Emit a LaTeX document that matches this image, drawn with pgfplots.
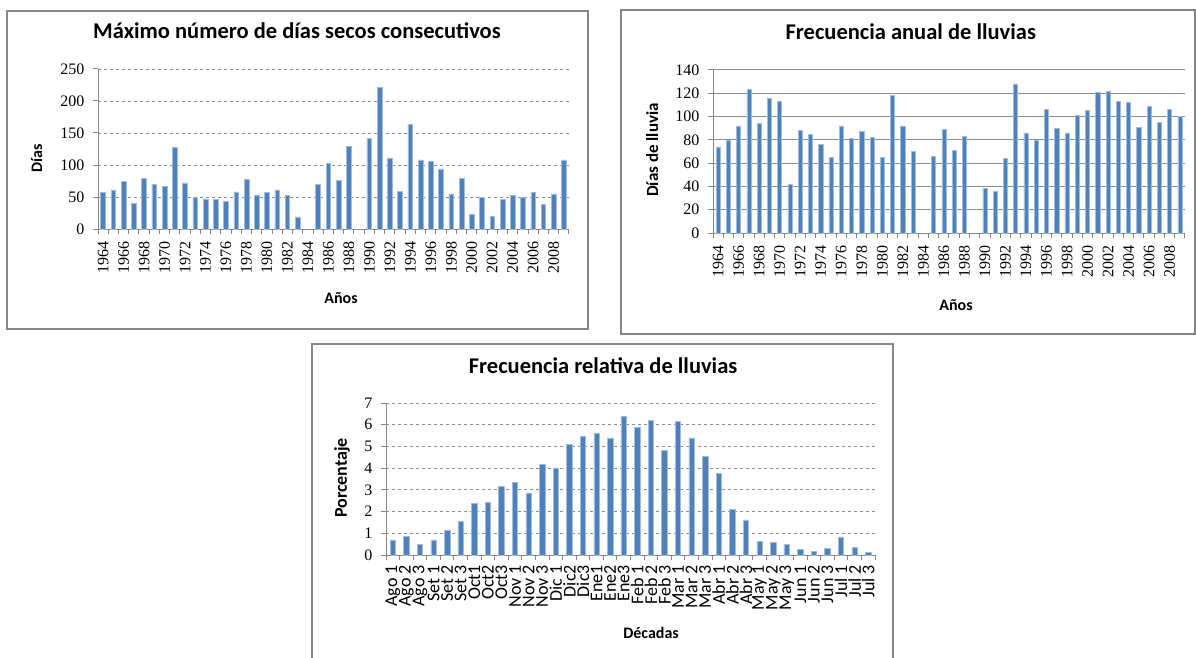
\documentclass[border=0pt]{standalone}
\usepackage{pgfplots}
\pgfplotsset{compat=1.18}
\usepackage{fontspec}
\setmainfont{Carlito}
\newfontfamily\numfont{Liberation Serif}

\definecolor{barblue}{HTML}{4F81BD}
\definecolor{baredge}{HTML}{A3BCDC}
\definecolor{axisgray}{HTML}{868686}
\definecolor{gridgray}{HTML}{8C8C8C}

\pgfplotsset{
  excel/.style={
    scale only axis,
    ybar,
    axis x line*=bottom, axis y line*=left,
    axis line style={axisgray, line width=1pt},
    tick align=outside,
    major tick length=5pt, minor tick length=5pt,
    tick style={axisgray, line width=1pt},
    every major x tick/.append style={draw=none},
    ymin=0,
    ymajorgrids,
    /pgf/number format/assume math mode=true,
    /pgf/number format/1000 sep={},
    yticklabel style={font=\numfont\fontsize{16}{16}\selectfont, xshift=-5pt},
    xticklabel style={font=\numfont\fontsize{16}{16}\selectfont, yshift=-4pt, rotate=90, anchor=east},
    title style={font=\bfseries\fontsize{22.5}{22.5}\selectfont, anchor=center},
    label style={font=\bfseries\fontsize{16}{16}\selectfont, anchor=center},
  },
  bars/.style={fill=barblue, draw=baredge, line width=0.6pt},
}

\begin{document}
\begin{tikzpicture}
\useasboundingbox (0pt,0pt) rectangle (1196pt,657pt);

% frames
\draw[axisgray, line width=1.2pt] (7pt,328pt) rectangle (588pt,646pt);
\draw[axisgray, line width=1.2pt] (621pt,323pt) rectangle (1195pt,647pt);
\draw[axisgray, line width=1.2pt] (312pt,-5pt) rectangle (893pt,313pt);

% Chart 1
\begin{axis}[excel,
    at={(98pt,428pt)}, anchor=south west,
    width=471pt, height=160pt,
    xmin=1963.5, xmax=2009.5,
    ymax=250, ytick={0,50,...,250},
    xtick={1964,1966,...,2008},
    minor xtick={1963.5,1964.5,...,2009.5},
    bar width=0.46,
    grid style={gridgray, dashed, line width=0.8pt},
    title={Máximo número de días secos consecutivos},
    title style={at={(axis description cs:0.4225,1.2)}},
    xlabel={Años}, xlabel style={at={(axis description cs:0.516,-0.431)}},
    ylabel={Días}, ylabel style={at={(axis description cs:-0.13,0.444)}},
  ]
  \addplot[bars] coordinates {
    (1964,57)(1965,61)(1966,75)(1967,40)(1968,79)(1969,70)(1970,67)(1971,127)
    (1972,72)(1973,50)(1974,47)(1975,46)(1976,43)(1977,58)(1978,78)(1979,52)
    (1980,57)(1981,61)(1982,53)(1983,19)(1985,70)(1986,103)(1987,76)
    (1988,129)(1990,141)(1991,221)(1992,111)(1993,59)(1994,164)(1995,108)
    (1996,105)(1997,94)(1998,55)(1999,79)(2000,23)(2001,50)(2002,20)(2003,46)
    (2004,52)(2005,49)(2006,57)(2007,39)(2008,55)(2009,108)
  };
\end{axis}

% Chart 2
\begin{axis}[excel,
    at={(713pt,424pt)}, anchor=south west,
    width=472pt, height=163pt,
    xmin=1963.5, xmax=2009.5,
    ymax=140, ytick={0,20,...,140},
    xtick={1964,1966,...,2008},
    minor xtick={1963.5,1964.5,...,2009.5},
    bar width=0.4,
    grid style={gridgray, line width=1pt},
    title={Frecuencia anual de lluvias},
    title style={at={(axis description cs:0.419,1.196)}},
    xlabel={Años}, xlabel style={at={(axis description cs:0.515,-0.442)}},
    ylabel={Días de lluvia}, ylabel style={at={(axis description cs:-0.129,0.509)},
      font=\bfseries\fontsize{17}{17}\selectfont},
  ]
  \addplot[bars] coordinates {
    (1964,74)(1965,80)(1966,92)(1967,123)(1968,94)(1969,116)(1970,113)(1971,42)
    (1972,88)(1973,85)(1974,76)(1975,65)(1976,92)(1977,81)(1978,87)(1979,82)
    (1980,65)(1981,118)(1982,92)(1983,70)(1985,66)(1986,89)(1987,71)
    (1988,83)(1990,38)(1991,36)(1992,64)(1993,128)(1994,86)(1995,80)
    (1996,106)(1997,90)(1998,86)(1999,101)(2000,105)(2001,121)(2002,122)(2003,113)
    (2004,112)(2005,91)(2006,109)(2007,95)(2008,106)(2009,100)
  };
\end{axis}

% Chart 3
\begin{axis}[excel,
    at={(386pt,102pt)}, anchor=south west,
    width=489pt, height=152pt,
    xmin=-0.5, xmax=35.5,
    ymax=7, ytick={0,1,...,7},
    xtick={0,1,...,35},
    minor xtick={-0.5,0.5,...,35.5},
    xticklabels={Ago 1,Ago 2,Ago 3,Set 1,Set 2,Set 3,Oct1,Oct2,Oct3,Nov 1,Nov 2,Nov 3,
      Dic 1,Dic2,Dic3,Ene1,Ene2,Ene3,Feb 1,Feb 2,Feb 3,Mar 1,Mar 2,Mar 3,
      Abr 1,Abr 2,Abr 3,May 1,May 2,May 3,Jun 1,Jun 2,Jun 3,Jul 1,Jul 2,Jul 3},
    xticklabel style={font=\fontsize{18}{18}\selectfont, inner sep=1pt},
    bar width=0.4,
    grid style={gridgray, dashed, line width=0.8pt},
    title={Frecuencia relativa de lluvias},
    title style={at={(axis description cs:0.444,1.204)}},
    xlabel={Décadas}, xlabel style={at={(axis description cs:0.542,-0.513)}},
    ylabel={Porcentaje}, ylabel style={at={(axis description cs:-0.09,0.507)},
      font=\bfseries\fontsize{18}{18}\selectfont},
  ]
  \addplot[bars] coordinates {
    (0,0.70)(1,0.87)(2,0.47)(3,0.70)(4,1.13)(5,1.55)(6,2.37)(7,2.42)(8,3.17)
    (9,3.35)(10,2.86)(11,4.17)(12,4.01)(13,5.11)(14,5.48)(15,5.60)(16,5.39)
    (17,6.40)(18,5.88)(19,6.19)(20,4.81)(21,6.14)(22,5.39)(23,4.55)(24,3.75)
    (25,2.10)(26,1.62)(27,0.61)(28,0.57)(29,0.47)(30,0.25)(31,0.17)(32,0.29)
    (33,0.83)(34,0.34)(35,0.12)
  };
\end{axis}
\end{tikzpicture}
\end{document}
